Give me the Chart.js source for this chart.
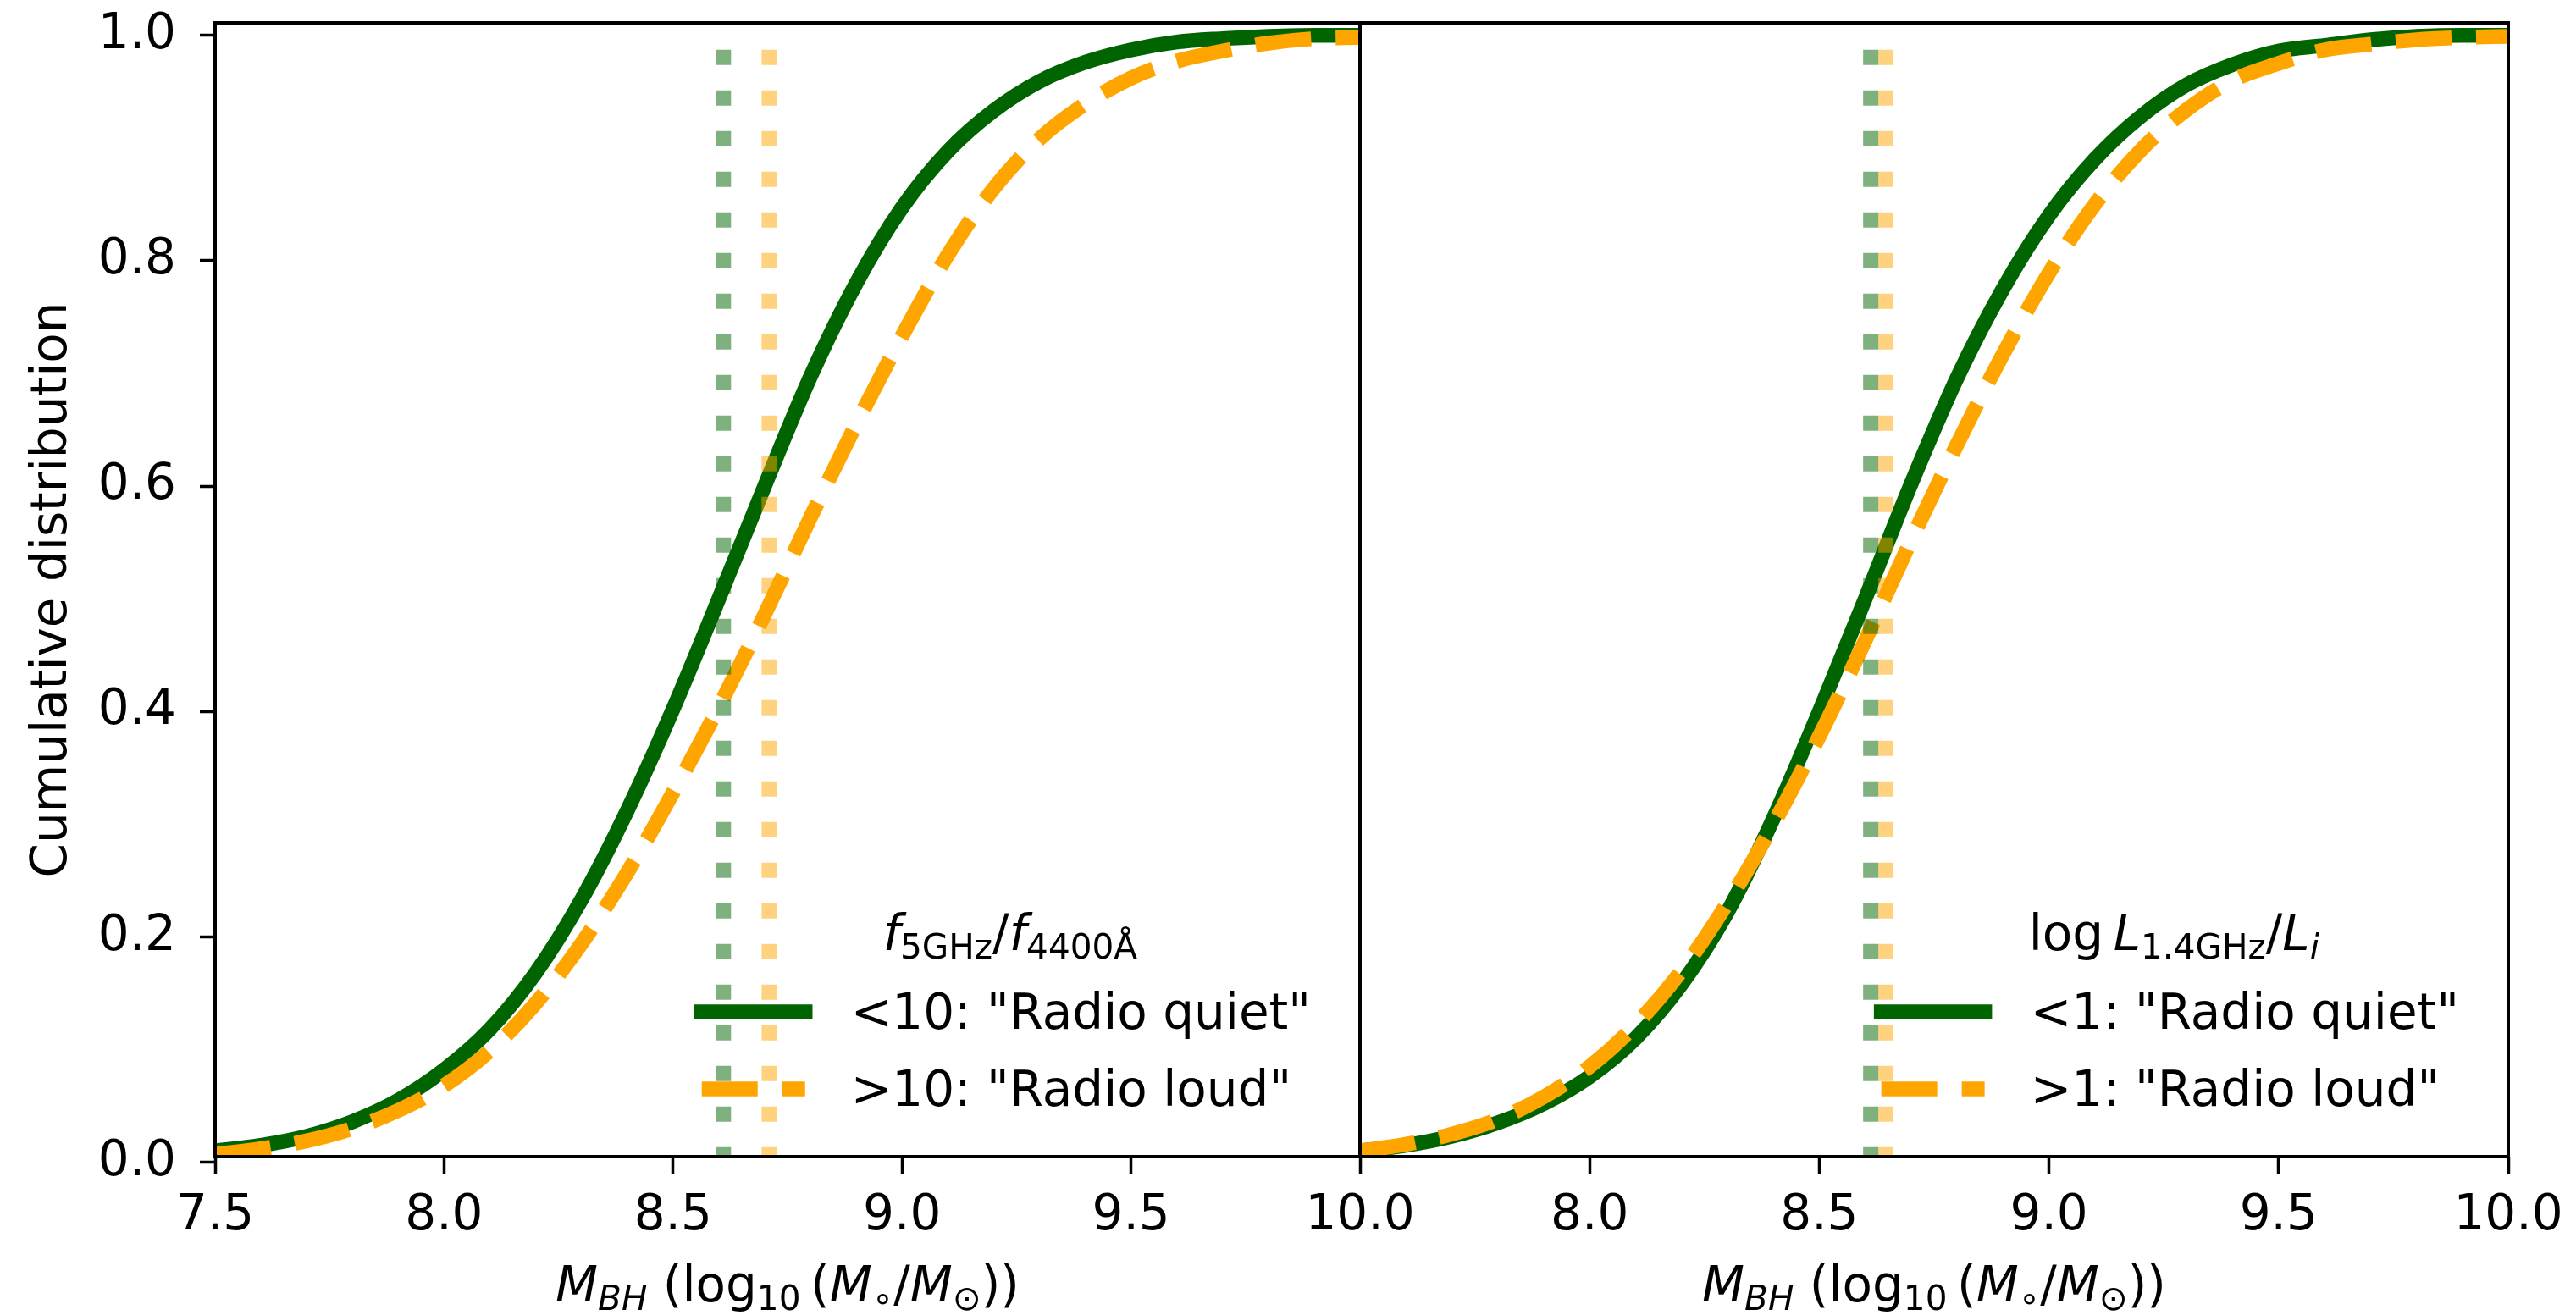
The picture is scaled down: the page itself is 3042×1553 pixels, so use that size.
<!DOCTYPE html>
<html>
<head>
<meta charset="utf-8">
<script src="https://cdn.jsdelivr.net/npm/chart.js@4.4.1/dist/chart.umd.min.js"></script>
<style>
  body { margin: 0; background: #fff; width: 3042px; height: 1553px; position: relative; overflow: hidden; }
  canvas { position: absolute; top: 0; }
  #left { left: 0; }
  #right { left: 1526px; }
</style>
</head>
<body>
<canvas id="left" width="1700" height="1553"></canvas>
<canvas id="right" width="1516" height="1553"></canvas>
<script>
// black hole mass grid (log10 M / Msun)
const mbh = [7.5, 7.6, 7.7, 7.8, 7.9, 8.0, 8.1, 8.2, 8.3, 8.4, 8.5, 8.6, 8.7,
             8.8, 8.9, 9.0, 9.1, 9.2, 9.3, 9.4, 9.5, 9.6, 9.7, 9.8, 9.9, 10.0];

// left panel: f5GHz / f4400A split
const leftQuiet = [0.010, 0.015, 0.023, 0.036, 0.055, 0.082, 0.118, 0.168, 0.233, 0.312, 0.402, 0.500, 0.600,
                   0.697, 0.780, 0.847, 0.897, 0.933, 0.959, 0.976, 0.987, 0.994, 0.997, 0.999, 1.000, 1.000];
const leftLoud  = [0.007, 0.012, 0.019, 0.030, 0.046, 0.068, 0.099, 0.141, 0.194, 0.257, 0.328, 0.404, 0.486,
                   0.572, 0.655, 0.733, 0.805, 0.864, 0.908, 0.939, 0.962, 0.977, 0.986, 0.993, 0.997, 0.998];

// right panel: log L1.4GHz / Li split
const rightQuiet = [0.010, 0.015, 0.023, 0.035, 0.052, 0.076, 0.110, 0.158, 0.222, 0.305, 0.400, 0.500, 0.602,
                    0.696, 0.775, 0.840, 0.890, 0.928, 0.956, 0.974, 0.986, 0.991, 0.996, 0.999, 1.000, 1.000];
const rightLoud  = [0.010, 0.016, 0.025, 0.038, 0.058, 0.085, 0.122, 0.170, 0.230, 0.300, 0.378, 0.463, 0.552,
                    0.637, 0.717, 0.789, 0.850, 0.898, 0.934, 0.960, 0.975, 0.987, 0.992, 0.996, 0.998, 0.999];

// medians (dotted lines): [quiet, loud]
const leftMedians = [8.61, 8.71];
const rightMedians = [8.612, 8.645];

const leftXTicks = [7.5, 8.0, 8.5, 9.0, 9.5, 10.0];
const rightXTicks = [8.0, 8.5, 9.0, 9.5, 10.0];
const yTicks = [0.0, 0.2, 0.4, 0.6, 0.8, 1.0];
const xRange = [7.5, 10.0];
const yRange = [0.005, 1.011];
const medianSpan = [0, 1];

const leftLabels = ['<10: "Radio quiet"', '>10: "Radio loud"'];
const rightLabels = ['<1: "Radio quiet"', '>1: "Radio loud"'];

const GREEN = '#006400';
const ORANGE = '#ffa500';
const FONT = '"DejaVu Sans"';
const FS = 58;

Chart.defaults.font.family = FONT;
Chart.defaults.font.size = FS;
Chart.defaults.color = '#000';

// tiny mathtext-ish renderer: parts = [{t, i (italic), s (subscript)}]
function drawRich(ctx, parts, x, y, size) {
  const subSize = size * 0.7;
  const font = p => (p.i ? 'italic ' : '') + (p.s ? subSize : size) + 'px ' + FONT;
  let w = 0;
  parts.forEach(p => { ctx.font = font(p); w += ctx.measureText(p.t).width; });
  let cx = x - w / 2;
  ctx.textAlign = 'left';
  ctx.textBaseline = 'alphabetic';
  ctx.fillStyle = '#000';
  parts.forEach(p => {
    ctx.font = font(p);
    ctx.fillText(p.t, cx, y + (p.s ? size * 0.18 : 0));
    cx += ctx.measureText(p.t).width;
  });
}

const xTitle = [
  {t: 'M', i: 1}, {t: 'BH', i: 1, s: 1}, {t: ' (log'}, {t: '10', s: 1}, {t: '\u2009('},
  {t: 'M', i: 1}, {t: '\u2218', s: 1}, {t: '/'}, {t: 'M', i: 1}, {t: '\u2299', s: 1}, {t: '))'}
];
const leftLegendTitle = [
  {t: 'f', i: 1}, {t: '5GHz', s: 1}, {t: '/'}, {t: 'f', i: 1}, {t: '4400\u00c5', s: 1}
];
const rightLegendTitle = [
  {t: 'log\u2009'}, {t: 'L', i: 1}, {t: '1.4GHz', s: 1}, {t: '/'}, {t: 'L', i: 1}, {t: 'i', i: 1, s: 1}
];

const frame = {
  id: 'frame',
  afterDatasetsDraw(chart) {
    const {ctx, chartArea: a} = chart;
    ctx.save();
    ctx.strokeStyle = '#000';
    ctx.lineWidth = 4;
    ctx.strokeRect(a.left, a.top, a.right - a.left, a.bottom - a.top);
    ctx.restore();
  }
};

const decorations = {
  id: 'decorations',
  afterDraw(chart, args, opts) {
    const {ctx, chartArea: a} = chart;
    ctx.save();
    // x axis title
    drawRich(ctx, xTitle, (a.left + a.right) / 2, 1537, FS);

    // legend, anchored to bottom right, no frame
    ctx.font = FS + 'px ' + FONT;
    const textW = Math.max(...opts.labels.map(l => ctx.measureText(l).width));
    const textX = a.right - 58 - textW;
    const rows = [a.bottom - 151, a.bottom - 60];
    const styles = [
      {color: GREEN, dash: [], cap: 'square'},
      {color: ORANGE, dash: [66, 29], cap: 'butt'}
    ];
    styles.forEach((s, i) => {
      ctx.beginPath();
      ctx.strokeStyle = s.color;
      ctx.lineWidth = 17.5;
      ctx.lineCap = s.cap;
      ctx.setLineDash(s.dash);
      ctx.moveTo(textX - 176, rows[i] - 20);
      ctx.lineTo(textX - 54, rows[i] - 20);
      ctx.stroke();
      ctx.setLineDash([]);
      ctx.font = FS + 'px ' + FONT;
      ctx.fillStyle = '#000';
      ctx.textAlign = 'left';
      ctx.textBaseline = 'alphabetic';
      ctx.fillText(opts.labels[i], textX, rows[i]);
    });
    drawRich(ctx, opts.title, (textX - 176 + a.right - 55) / 2 + 3, a.bottom - 244, FS);
    ctx.restore();
  }
};

function series(ys) {
  return mbh.map((x, i) => ({x: x, y: ys[i]}));
}

function medianLine(x, color) {
  return {
    data: medianSpan.map(y => ({x: x, y: y})),
    borderColor: color,
    borderWidth: 18,
    borderDash: [18, 30],
    borderCapStyle: 'butt',
    pointRadius: 0,
    clip: 0,
    order: 0
  };
}

function makePanel(id, quiet, loud, medians, xTicks, labels, title, isLeft) {
  return new Chart(document.getElementById(id), {
    type: 'line',
    data: {
      datasets: [
        {
          data: series(quiet), borderColor: GREEN, borderWidth: 17.5, borderCapStyle: 'square',
          borderJoinStyle: 'round', cubicInterpolationMode: 'monotone', pointRadius: 0, clip: 0, order: 2
        },
        {
          data: series(loud), borderColor: ORANGE, borderWidth: 17.5, borderDash: [66, 29],
          borderCapStyle: 'butt', cubicInterpolationMode: 'monotone', pointRadius: 0, clip: 0, order: 1
        },
        medianLine(medians[0], 'rgba(0,100,0,0.5)'),
        medianLine(medians[1], 'rgba(255,165,0,0.5)')
      ]
    },
    options: {
      responsive: false,
      animation: false,
      devicePixelRatio: 1,
      events: [],
      layout: { padding: isLeft ? {left: 0, right: 94, top: 27, bottom: 0}
                                : {left: 80, right: 80, top: 27, bottom: 0} },
      plugins: {
        legend: { display: false },
        tooltip: { enabled: false },
        decorations: { labels: labels, title: title }
      },
      scales: {
        x: {
          type: 'linear',
          min: xRange[0], max: xRange[1],
          afterBuildTicks: s => { s.ticks = xTicks.map(v => ({value: v})); },
          afterFit: s => { s.height = 187; s.paddingLeft = 0; s.paddingRight = 0; },
          ticks: { padding: 16, maxRotation: 0, autoSkip: false, callback: v => v.toFixed(1) },
          grid: { drawOnChartArea: false, drawTicks: true, tickLength: 20, tickWidth: 3.5, tickColor: '#000' },
          border: { display: false }
        },
        y: {
          type: 'linear',
          display: isLeft,
          min: yRange[0], max: yRange[1],
          afterBuildTicks: s => { s.ticks = yTicks.map(v => ({value: v})); },
          afterFit: s => { s.width = isLeft ? 254 : 0; s.paddingTop = 0; s.paddingBottom = 0; },
          ticks: { padding: 28, autoSkip: false, callback: v => v.toFixed(1) },
          grid: { drawOnChartArea: false, drawTicks: true, tickLength: 18, tickWidth: 3.5, tickColor: '#000' },
          border: { display: false },
          title: { display: true, text: 'Cumulative distribution', padding: {top: 28, bottom: 0} }
        }
      }
    },
    plugins: [frame, decorations]
  });
}

makePanel('left', leftQuiet, leftLoud, leftMedians, leftXTicks, leftLabels, leftLegendTitle, true);
makePanel('right', rightQuiet, rightLoud, rightMedians, rightXTicks, rightLabels, rightLegendTitle, false);
</script>
</body>
</html>
